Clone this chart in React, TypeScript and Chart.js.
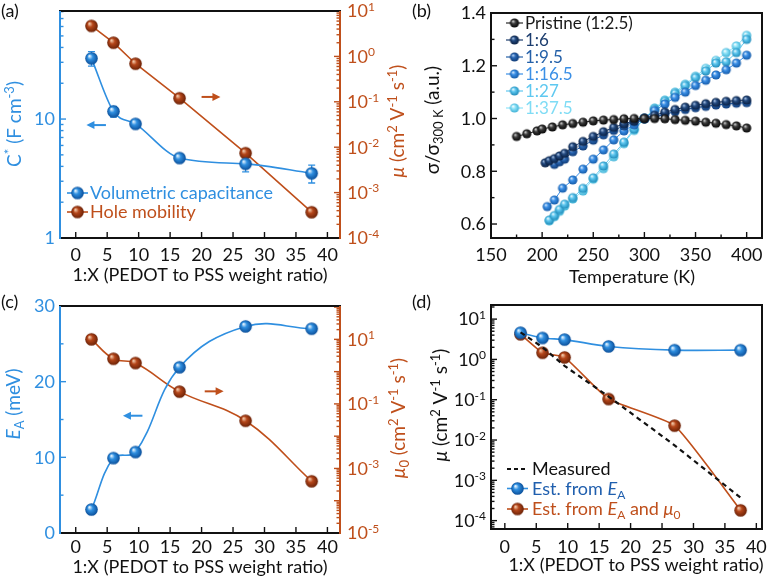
import React, { useEffect, useRef } from 'react';
import { Chart, registerables } from 'chart.js';
Chart.register(...registerables);

const FONT = 'Lato, "Noto Sans", sans-serif';
const BLUE = '#2f8fe0';
const ORANGE = '#bf4f1b';
const BLACK = '#111111';

// ---------------- data ----------------
const ratioX = [2.5, 6, 9.5, 16.5, 27, 37.5];
const capacitance = [32.4, 11.6, 9.1, 4.7, 4.2, 3.5];
const capacitanceErr = [4.5, 1.2, 0.6, 0.25, 0.6, 0.6];
const holeMobility = [4.7, 2.0, 0.69, 0.12, 0.0074, 0.00037];
const activationEnergy = [3.1, 9.9, 10.7, 21.9, 27.3, 27.0];
const mu0 = [10, 2.5, 1.85, 0.24, 0.03, 0.0004];
const estFromEA = [4.6, 3.4, 3.1, 2.1, 1.7, 1.7];
const estFromEAandMu0 = [4.2, 1.46, 1.12, 0.104, 0.0227, 0.00018];

const tempPristine = [175, 185, 195, 200, 210, 220, 230, 240, 250, 260, 270, 280, 290, 300, 310, 320, 330, 340, 350, 360, 370, 380, 390, 400];
const sigmaPristine = [0.932, 0.942, 0.953, 0.96, 0.968, 0.976, 0.981, 0.986, 0.991, 0.994, 0.996, 0.999, 1.0, 1.0, 1.0, 0.999, 0.996, 0.993, 0.99, 0.986, 0.982, 0.977, 0.972, 0.964];
const temp6 = [203, 207, 212, 217, 222, 230, 240, 250, 260, 270, 280, 290, 300, 310, 320, 330, 340, 350, 360, 370, 380, 390, 400];
const sigma6 = [0.832, 0.84, 0.848, 0.858, 0.868, 0.893, 0.913, 0.932, 0.95, 0.966, 0.98, 0.991, 1.0, 1.012, 1.024, 1.034, 1.043, 1.05, 1.056, 1.061, 1.065, 1.068, 1.07];
const temp95 = [212, 217, 222, 230, 240, 250, 260, 270, 280, 290, 300, 310, 320, 330, 340, 350, 360, 370, 380, 390, 400];
const sigma95 = [0.826, 0.836, 0.846, 0.874, 0.896, 0.918, 0.938, 0.955, 0.972, 0.988, 1.0, 1.006, 1.016, 1.026, 1.034, 1.041, 1.046, 1.051, 1.055, 1.058, 1.06];
const temp165 = [205, 212, 220, 230, 240, 250, 260, 270, 280, 290, 300, 310, 320, 330, 340, 350, 360, 370, 380, 390, 400];
const sigma165 = [0.666, 0.691, 0.736, 0.767, 0.808, 0.846, 0.881, 0.919, 0.953, 0.976, 1.0, 1.03, 1.055, 1.08, 1.1, 1.125, 1.145, 1.165, 1.185, 1.21, 1.24];
const temp27 = [207, 212, 217, 222, 230, 240, 250, 260, 270, 280, 290, 300, 310, 320, 330, 340, 350, 360, 370, 380, 390, 400];
const sigma27 = [0.615, 0.632, 0.655, 0.675, 0.7, 0.735, 0.775, 0.82, 0.865, 0.91, 0.96, 1.0, 1.035, 1.065, 1.095, 1.125, 1.155, 1.18, 1.21, 1.215, 1.25, 1.3];
const temp375 = [207, 212, 217, 222, 230, 240, 250, 260, 270, 280, 290, 300, 310, 320, 330, 340, 350, 360, 370, 380, 390, 400];
const sigma375 = [0.612, 0.628, 0.648, 0.668, 0.695, 0.725, 0.77, 0.81, 0.855, 0.905, 0.955, 1.0, 1.04, 1.07, 1.1, 1.13, 1.16, 1.19, 1.22, 1.25, 1.275, 1.315];

const seriesNamesB = ['Pristine (1:2.5)', '1:6', '1:9.5', '1:16.5', '1:27', '1:37.5'];
const ratioTicks = [0, 5, 10, 15, 20, 25, 30, 35, 40];
const tempTicks = [150, 200, 250, 300, 350, 400];
const sigmaTicks = [0.6, 0.8, 1.0, 1.2, 1.4];
const eaTicks = [0, 10, 20, 30];

// ---------------- helpers ----------------
type Seg = { t: string; it?: boolean; sup?: boolean; sub?: boolean };
type Tk = { value: number; major: boolean; segs?: Seg[] };

function drawRich(ctx: CanvasRenderingContext2D, segs: Seg[], x: number, y: number, o: { size: number; color: string; align?: string; rot?: boolean }) {
  const size = o.size;
  const fontOf = (s: Seg) => `${s.it ? 'italic ' : ''}${s.sup || s.sub ? Math.round(size * 0.66) : size}px ${FONT}`;
  ctx.save();
  ctx.translate(x, y);
  if (o.rot) ctx.rotate(-Math.PI / 2);
  let w = 0;
  for (const s of segs) { ctx.font = fontOf(s); w += ctx.measureText(s.t).width; }
  let cx = o.align === 'center' ? -w / 2 : o.align === 'right' ? -w : 0;
  ctx.fillStyle = o.color;
  ctx.textBaseline = 'alphabetic';
  ctx.textAlign = 'left';
  for (const s of segs) {
    ctx.font = fontOf(s);
    const dy = s.sup ? -size * 0.36 : s.sub ? size * 0.22 : 0;
    ctx.fillText(s.t, cx, dy);
    cx += ctx.measureText(s.t).width;
  }
  ctx.restore();
}

function mkSphere(base: string, light: string, dark: string, r: number) {
  const c = document.createElement('canvas');
  const s = Math.ceil(r * 2 + 2);
  c.width = s; c.height = s;
  const g = c.getContext('2d')!;
  const cx = s / 2, cy = s / 2;
  const grad = g.createRadialGradient(cx - r * 0.35, cy - r * 0.4, r * 0.05, cx, cy, r);
  grad.addColorStop(0, light);
  grad.addColorStop(0.4, base);
  grad.addColorStop(1, dark);
  g.fillStyle = grad;
  g.beginPath(); g.arc(cx, cy, r, 0, Math.PI * 2); g.fill();
  return c;
}

function linTicks(major: number[], minorStep: number, min: number, max: number, fmt: (v: number) => string): Tk[] {
  const out: Tk[] = [];
  const n0 = Math.ceil(min / minorStep - 1e-9), n1 = Math.floor(max / minorStep + 1e-9);
  for (let n = n0; n <= n1; n++) {
    const v = +(n * minorStep).toFixed(6);
    const isMaj = major.some((m) => Math.abs(m - v) < 1e-6);
    out.push({ value: v, major: isMaj, segs: isMaj ? [{ t: fmt(v) }] : undefined });
  }
  return out;
}

function logTicks(min: number, max: number, label: (e: number) => Seg[] | undefined): Tk[] {
  const out: Tk[] = [];
  const e0 = Math.floor(Math.log10(min)), e1 = Math.ceil(Math.log10(max));
  for (let e = e0; e <= e1; e++) {
    for (let k = 1; k <= 9; k++) {
      const v = k * Math.pow(10, e);
      if (v < min * 0.999 || v > max * 1.001) continue;
      out.push({ value: v, major: k === 1, segs: k === 1 ? label(e) : undefined });
    }
  }
  return out;
}
const pow10 = (e: number): Seg[] => [{ t: '10' }, { t: String(e), sup: true }];
const muUnit: Seg[] = [{ t: ' (cm' }, { t: '2', sup: true }, { t: ' V' }, { t: '-1', sup: true }, { t: ' s' }, { t: '-1', sup: true }, { t: ')' }];

const hidden = { grid: { display: false, drawTicks: false }, border: { display: false }, ticks: { display: false }, title: { display: false } };

interface Spec {
  panel: string; panelPos: [number, number];
  frame: { top: string; right: string; bottom: string; left: string };
  axes: { id: string; side: string; color: string; pad: number; size: number }[];
  titles: { segs: Seg[]; x: number; y: number; rot?: boolean; color: string; size: number }[];
  legend?: { x0: number; x1: number; tx: number; size: number; items: { y: number; segs: Seg[]; color: string; line: string; dash?: number[]; sphere?: HTMLCanvasElement; lw?: number }[] };
  arrows?: { axis: string; from: number; to: number; y: number; color: string }[];
  errors?: { dataset: number; axis: string; err: number[]; color: string };
}

function decor(spec: Spec) {
  return {
    id: 'decor',
    beforeDatasetsDraw(chart: any) {
      const e = spec.errors;
      if (!e) return;
      const ctx = chart.ctx as CanvasRenderingContext2D;
      const meta = chart.getDatasetMeta(e.dataset);
      const sc = chart.scales[e.axis];
      const data = chart.data.datasets[e.dataset].data as any[];
      ctx.save();
      ctx.strokeStyle = e.color; ctx.lineWidth = 1.3;
      meta.data.forEach((pt: any, i: number) => {
        const v = data[i].y, er = e.err[i];
        const y1 = sc.getPixelForValue(v + er), y2 = sc.getPixelForValue(v - er);
        const x = pt.x;
        ctx.beginPath();
        ctx.moveTo(x, y1); ctx.lineTo(x, y2);
        ctx.moveTo(x - 3.5, y1); ctx.lineTo(x + 3.5, y1);
        ctx.moveTo(x - 3.5, y2); ctx.lineTo(x + 3.5, y2);
        ctx.stroke();
      });
      ctx.restore();
    },
    afterDraw(chart: any) {
      const ctx = chart.ctx as CanvasRenderingContext2D;
      const ca = chart.chartArea;
      ctx.save();
      for (const a of spec.axes) {
        const sc = chart.scales[a.id];
        ctx.strokeStyle = a.color; ctx.lineWidth = 1.4;
        for (const t of sc.ticks as Tk[]) {
          const p = sc.getPixelForValue(t.value);
          const len = t.major ? 6 : 3.5;
          ctx.beginPath();
          if (a.side === 'bottom') {
            if (p < ca.left - 1 || p > ca.right + 1) continue;
            ctx.moveTo(p, ca.bottom); ctx.lineTo(p, ca.bottom - len); ctx.stroke();
            if (t.segs) drawRich(ctx, t.segs, p, ca.bottom + a.pad + a.size * 0.35, { size: a.size, color: a.color, align: 'center' });
          } else if (a.side === 'left') {
            if (p < ca.top - 1 || p > ca.bottom + 1) continue;
            ctx.moveTo(ca.left, p); ctx.lineTo(ca.left + len, p); ctx.stroke();
            if (t.segs) drawRich(ctx, t.segs, ca.left - a.pad, p + a.size * 0.35, { size: a.size, color: a.color, align: 'right' });
          } else {
            if (p < ca.top - 1 || p > ca.bottom + 1) continue;
            ctx.moveTo(ca.right, p); ctx.lineTo(ca.right - len, p); ctx.stroke();
            if (t.segs) drawRich(ctx, t.segs, ca.right + a.pad, p + a.size * 0.35, { size: a.size, color: a.color, align: 'left' });
          }
        }
      }
      ctx.lineWidth = 2;
      const ln = (x1: number, y1: number, x2: number, y2: number, c: string) => {
        ctx.strokeStyle = c; ctx.beginPath(); ctx.moveTo(x1, y1); ctx.lineTo(x2, y2); ctx.stroke();
      };
      ln(ca.left - 1, ca.top, ca.right + 1, ca.top, spec.frame.top);
      ln(ca.left - 1, ca.bottom, ca.right + 1, ca.bottom, spec.frame.bottom);
      ln(ca.left, ca.top, ca.left, ca.bottom + 1, spec.frame.left);
      ln(ca.right, ca.top, ca.right, ca.bottom + 1, spec.frame.right);
      for (const t of spec.titles) {
        if (t.rot) drawRich(ctx, t.segs, t.x + t.size * 0.35, t.y, { size: t.size, color: t.color, align: 'center', rot: true });
        else drawRich(ctx, t.segs, t.x, t.y + t.size * 0.35, { size: t.size, color: t.color, align: 'center' });
      }
      drawRich(ctx, [{ t: spec.panel }], spec.panelPos[0], spec.panelPos[1], { size: 18, color: BLACK });
      for (const a of spec.arrows || []) {
        const xs = chart.scales.x;
        const x1 = xs.getPixelForValue(a.from), x2 = xs.getPixelForValue(a.to);
        const y = chart.scales[a.axis].getPixelForValue(a.y);
        const dir = Math.sign(x2 - x1);
        ctx.strokeStyle = a.color; ctx.fillStyle = a.color; ctx.lineWidth = 2;
        ctx.beginPath(); ctx.moveTo(x1, y); ctx.lineTo(x2 - dir * 5, y); ctx.stroke();
        ctx.beginPath(); ctx.moveTo(x2, y); ctx.lineTo(x2 - dir * 8, y - 4); ctx.lineTo(x2 - dir * 8, y + 4); ctx.closePath(); ctx.fill();
      }
      const lg = spec.legend;
      if (lg) {
        for (const it of lg.items) {
          ctx.strokeStyle = it.line; ctx.lineWidth = it.lw || 1.6;
          ctx.setLineDash(it.dash || []);
          ctx.beginPath(); ctx.moveTo(lg.x0, it.y); ctx.lineTo(lg.x1, it.y); ctx.stroke();
          ctx.setLineDash([]);
          if (it.sphere) ctx.drawImage(it.sphere, (lg.x0 + lg.x1) / 2 - it.sphere.width / 2, it.y - it.sphere.height / 2);
          drawRich(ctx, it.segs, lg.tx, it.y + lg.size * 0.35, { size: lg.size, color: it.color });
        }
      }
      ctx.restore();
    },
  };
}

function baseOptions(pad: any, scales: any) {
  return {
    responsive: false,
    animation: false,
    events: [],
    layout: { padding: pad },
    plugins: { legend: { display: false }, tooltip: { enabled: false }, title: { display: false } },
    scales,
  };
}

const pts = (xs: number[], ys: number[]) => xs.map((x, i) => ({ x, y: ys[i] }));
const fmtInt = (v: number) => String(v);

function lineDs(label: string, data: any[], color: string, sph: any, axis: string, extra: any = {}) {
  return { label, data, borderColor: color, backgroundColor: color, borderWidth: 1.6, pointStyle: sph, pointRadius: 6, yAxisID: axis, showLine: true, fill: false, ...extra };
}

const ratioAxis = (min: number, max: number, h: number) => ({
  type: 'linear', position: 'bottom', min, max, ...hidden,
  afterBuildTicks: (s: any) => { s.ticks = linTicks(ratioTicks, 5, min, max, fmtInt); },
  afterFit: (s: any) => { s.height = h; },
});

// ---------------- panels ----------------
function buildA(): any {
  const sb = mkSphere(BLUE, '#eaf6ff', '#0b4f9a', 6.3);
  const so = mkSphere('#b5461a', '#f6cfb0', '#6b2207', 6.3);
  const spec: Spec = {
    panel: '(a)', panelPos: [1, 17],
    frame: { top: BLACK, bottom: BLACK, left: BLUE, right: ORANGE },
    axes: [
      { id: 'x', side: 'bottom', color: BLACK, pad: 17, size: 18 },
      { id: 'yL', side: 'left', color: BLUE, pad: 5, size: 18 },
      { id: 'yR', side: 'right', color: ORANGE, pad: 7, size: 18 },
    ],
    titles: [
      { segs: [{ t: 'C' }, { t: '*', sup: true }, { t: ' (F cm' }, { t: '-3', sup: true }, { t: ')' }], x: 14, y: 124, rot: true, color: BLUE, size: 19 },
      { segs: [{ t: 'μ', it: true }, ...muUnit], x: 397, y: 121, rot: true, color: ORANGE, size: 19 },
      { segs: [{ t: '1:X (PEDOT to PSS weight ratio)' }], x: 200, y: 275, color: BLACK, size: 18 },
    ],
    arrows: [
      { axis: 'yL', from: 4.8, to: 1.7, y: 8.9, color: BLUE },
      { axis: 'yR', from: 20, to: 23, y: 0.128, color: ORANGE },
    ],
    errors: { dataset: 0, axis: 'yL', err: capacitanceErr, color: BLUE },
    legend: {
      x0: 67, x1: 88, tx: 90, size: 18,
      items: [
        { y: 193, segs: [{ t: 'Volumetric capacitance' }], color: BLUE, line: BLUE, sphere: sb },
        { y: 212, segs: [{ t: 'Hole mobility' }], color: ORANGE, line: ORANGE, sphere: so },
      ],
    },
  };
  return {
    type: 'line',
    data: {
      datasets: [
        lineDs('Volumetric capacitance', pts(ratioX, capacitance), BLUE, sb, 'yL', { cubicInterpolationMode: 'monotone' }),
        lineDs('Hole mobility', pts(ratioX, holeMobility), ORANGE, so, 'yR'),
      ],
    },
    options: baseOptions({ top: 11, left: 0, right: 0, bottom: 0 }, {
      x: ratioAxis(-2.5, 42, 52),
      yL: { type: 'logarithmic', position: 'left', min: 1, max: 81, ...hidden,
        afterBuildTicks: (s: any) => { s.ticks = logTicks(1, 81, (e) => [{ t: String(Math.pow(10, e)) }]); },
        afterFit: (s: any) => { s.width = 60; } },
      yR: { type: 'logarithmic', position: 'right', min: 1e-4, max: 10, ...hidden,
        afterBuildTicks: (s: any) => { s.ticks = logTicks(1e-4, 10, pow10); },
        afterFit: (s: any) => { s.width = 70; } },
    }),
    plugins: [decor(spec)],
  };
}

function buildB(): any {
  const cols = [
    { line: '#2b2b2b', base: '#3c3c3c', light: '#d4d4d4', dark: '#050505', text: '#1a1a1a' },
    { line: '#1c3d6e', base: '#22497f', light: '#abc5e8', dark: '#0a1f40', text: '#1c3d6e' },
    { line: '#2460a8', base: '#2a68b5', light: '#b8d4f6', dark: '#0f3a75', text: '#2460a8' },
    { line: '#3a8fe6', base: '#3a8fe6', light: '#dcedff', dark: '#145aa8', text: '#3a8fe6' },
    { line: '#5ec8f0', base: '#5ec8f0', light: '#f2fbff', dark: '#1f8ab8', text: '#5ec8f0' },
    { line: '#8de3f8', base: '#8de3f8', light: '#ffffff', dark: '#3fb1d6', text: '#7fdcf5' },
  ];
  const sph = cols.map((c) => mkSphere(c.base, c.light, c.dark, 4.6));
  const series = [pts(tempPristine, sigmaPristine), pts(temp6, sigma6), pts(temp95, sigma95), pts(temp165, sigma165), pts(temp27, sigma27), pts(temp375, sigma375)];
  const spec: Spec = {
    panel: '(b)', panelPos: [2, 17],
    frame: { top: BLACK, bottom: BLACK, left: BLACK, right: BLACK },
    axes: [
      { id: 'x', side: 'bottom', color: BLACK, pad: 17, size: 18 },
      { id: 'y', side: 'left', color: BLACK, pad: 5, size: 18 },
    ],
    titles: [
      { segs: [{ t: 'σ/σ' }, { t: '300 K', sub: true }, { t: ' (a.u.)' }], x: 22, y: 120, rot: true, color: BLACK, size: 19 },
      { segs: [{ t: 'Temperature (K)' }], x: 222, y: 277, color: BLACK, size: 18 },
    ],
    legend: {
      x0: 96, x1: 113, tx: 115, size: 17,
      items: seriesNamesB.map((n, i) => ({ y: 23 + i * 17, segs: [{ t: n }], color: cols[i].text, line: cols[i].line, sphere: sph[i], lw: 1.2 })),
    },
  };
  return {
    type: 'line',
    data: {
      datasets: series.map((d, i) => lineDs(seriesNamesB[i], d, cols[i].line, sph[i], 'y', { borderWidth: 1, pointRadius: 4.6 })),
    },
    options: baseOptions({ top: 13, left: 0, right: 11, bottom: 0 }, {
      x: { type: 'linear', position: 'bottom', min: 150, max: 415, ...hidden,
        afterBuildTicks: (s: any) => { s.ticks = linTicks(tempTicks, 25, 150, 415, fmtInt); },
        afterFit: (s: any) => { s.height = 52; } },
      y: { type: 'linear', position: 'left', min: 0.547, max: 1.4, ...hidden,
        afterBuildTicks: (s: any) => { s.ticks = linTicks(sigmaTicks, 0.1, 0.547, 1.4, (v) => v.toFixed(1)); },
        afterFit: (s: any) => { s.width = 81; } },
    }),
    plugins: [decor(spec)],
  };
}

function buildC(): any {
  const sb = mkSphere(BLUE, '#eaf6ff', '#0b4f9a', 6.3);
  const so = mkSphere('#b5461a', '#f6cfb0', '#6b2207', 6.3);
  const spec: Spec = {
    panel: '(c)', panelPos: [1, 18],
    frame: { top: BLACK, bottom: BLACK, left: BLUE, right: ORANGE },
    axes: [
      { id: 'x', side: 'bottom', color: BLACK, pad: 14, size: 18 },
      { id: 'yL', side: 'left', color: BLUE, pad: 5, size: 18 },
      { id: 'yR', side: 'right', color: ORANGE, pad: 7, size: 18 },
    ],
    titles: [
      { segs: [{ t: 'E', it: true }, { t: 'A', sub: true }, { t: ' (meV)' }], x: 13, y: 114, rot: true, color: BLUE, size: 19 },
      { segs: [{ t: 'μ', it: true }, { t: '0', sub: true }, ...muUnit], x: 398, y: 128, rot: true, color: ORANGE, size: 19 },
      { segs: [{ t: '1:X (PEDOT to PSS weight ratio)' }], x: 200, y: 277, color: BLACK, size: 18 },
    ],
    arrows: [
      { axis: 'yL', from: 10.6, to: 7.5, y: 15.5, color: BLUE },
      { axis: 'yR', from: 20.5, to: 23.5, y: 0.245, color: ORANGE },
    ],
  };
  return {
    type: 'line',
    data: {
      datasets: [
        lineDs('E_A', pts(ratioX, activationEnergy), BLUE, sb, 'yL', { tension: 0.4 }),
        lineDs('mu0', pts(ratioX, mu0), ORANGE, so, 'yR', { tension: 0.4 }),
      ],
    },
    options: baseOptions({ top: 16, left: 0, right: 0, bottom: 0 }, {
      x: ratioAxis(-2.5, 42, 47),
      yL: { type: 'linear', position: 'left', min: 0, max: 30, ...hidden,
        afterBuildTicks: (s: any) => { s.ticks = linTicks(eaTicks, 5, 0, 30, fmtInt); },
        afterFit: (s: any) => { s.width = 60; } },
      yR: { type: 'logarithmic', position: 'right', min: 1e-5, max: 108, ...hidden,
        afterBuildTicks: (s: any) => { s.ticks = logTicks(1e-5, 108, (e) => (Math.abs(e) % 2 === 1 ? pow10(e) : [])); },
        afterFit: (s: any) => { s.width = 70; } },
    }),
    plugins: [decor(spec)],
  };
}

function buildD(): any {
  const sb = mkSphere(BLUE, '#eaf6ff', '#0b4f9a', 6.3);
  const so = mkSphere('#b5461a', '#f6cfb0', '#6b2207', 6.3);
  const DBLUE = '#1f5fae';
  const spec: Spec = {
    panel: '(d)', panelPos: [2, 18],
    frame: { top: BLACK, bottom: BLACK, left: BLACK, right: BLACK },
    axes: [
      { id: 'x', side: 'bottom', color: BLACK, pad: 17.5, size: 18 },
      { id: 'y', side: 'left', color: BLACK, pad: 5, size: 18 },
    ],
    titles: [
      { segs: [{ t: 'μ', it: true }, ...muUnit], x: 30, y: 115, rot: true, color: BLACK, size: 19 },
      { segs: [{ t: '1:X (PEDOT to PSS weight ratio)' }], x: 226, y: 275, color: BLACK, size: 18 },
    ],
    legend: {
      x0: 97, x1: 118, tx: 122, size: 18,
      items: [
        { y: 179, segs: [{ t: 'Measured' }], color: BLACK, line: BLACK, dash: [4, 3], lw: 2.2 },
        { y: 198.5, segs: [{ t: 'Est. from ' }, { t: 'E', it: true }, { t: 'A', sub: true }], color: DBLUE, line: BLUE, sphere: sb },
        { y: 219, segs: [{ t: 'Est. from ' }, { t: 'E', it: true }, { t: 'A', sub: true }, { t: ' and ' }, { t: 'μ', it: true }, { t: '0', sub: true }], color: ORANGE, line: ORANGE, sphere: so },
      ],
    },
  };
  return {
    type: 'line',
    data: {
      datasets: [
        lineDs('Measured', pts(ratioX, holeMobility), BLACK, 'circle', 'y', { borderWidth: 2.2, borderDash: [5, 4], pointRadius: 0 }),
        lineDs('Est. from E_A', pts(ratioX, estFromEA), BLUE, sb, 'y', { tension: 0.3 }),
        lineDs('Est. from E_A and mu0', pts(ratioX, estFromEAandMu0), ORANGE, so, 'y', { tension: 0.15 }),
      ],
    },
    options: baseOptions({ top: 15, left: 0, right: 11, bottom: 0 }, {
      x: ratioAxis(-2.2, 40.9, 51),
      y: { type: 'logarithmic', position: 'left', min: 6.2e-5, max: 22.4, ...hidden,
        afterBuildTicks: (s: any) => { s.ticks = logTicks(6.2e-5, 22.4, pow10); },
        afterFit: (s: any) => { s.width = 81; } },
    }),
    plugins: [decor(spec)],
  };
}

function ChartBox({ left, top, width, height, build }: { left: number; top: number; width: number; height: number; build: () => any }) {
  const ref = useRef<HTMLCanvasElement>(null);
  useEffect(() => {
    const chart = new Chart(ref.current as HTMLCanvasElement, build());
    return () => chart.destroy();
  }, []);
  return <canvas ref={ref} width={width} height={height} style={{ position: 'absolute', left, top, width, height, display: 'block' }} />;
}

export default function App() {
  return (
    <div style={{ position: 'absolute', left: 0, top: 0, width: 773, height: 580, background: '#ffffff', overflow: 'hidden' }}>
      <ChartBox left={0} top={0} width={410} height={290} build={buildA} />
      <ChartBox left={410} top={0} width={363} height={290} build={buildB} />
      <ChartBox left={0} top={290} width={410} height={290} build={buildC} />
      <ChartBox left={410} top={290} width={363} height={290} build={buildD} />
    </div>
  );
}
